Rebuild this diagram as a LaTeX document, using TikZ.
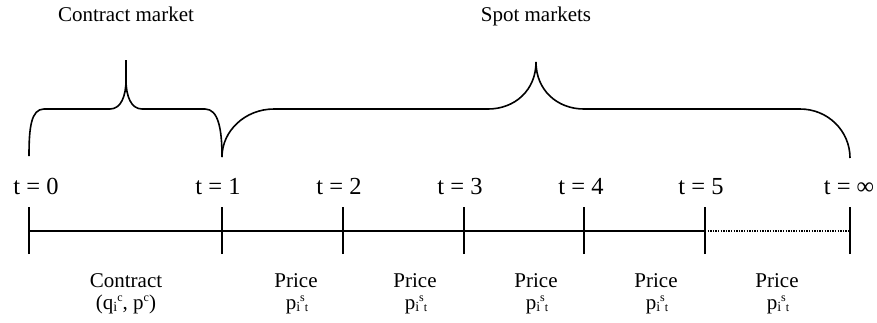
\documentclass[tikz,border=0pt]{standalone}
\usepackage{fontspec}
\setmainfont{Liberation Serif}
\newcommand{\lowi}[1]{\raisebox{-2.5pt}{\fontsize{14}{14}\selectfont #1}}
\newcommand{\supx}[1]{\raisebox{8pt}{\fontsize{12}{12}\selectfont #1}}
\newcommand{\subx}[1]{\raisebox{-2.5pt}{\fontsize{12}{12}\selectfont #1}}
\begin{document}
\begin{tikzpicture}[x=1pt,y=-1pt,
  lbl/.style={font=\fontsize{21}{23}\selectfont, inner sep=0pt, anchor=base},
  sublbl/.style={font=\fontsize{21}{23}\selectfont, inner sep=0pt, anchor=base},
  tlbl/.style={font=\fontsize{24.5}{26}\selectfont, inner sep=0pt, anchor=base},
  brace/.style={line width=1.6pt, line join=round},
  axis/.style={line width=1.3pt},
  tick/.style={line width=1.3pt},
  dotline/.style={line width=1.3pt, dash pattern=on 1.3pt off 1.3pt}]
\useasboundingbox (0,0) rectangle (877,322);
% timeline coordinates
\coordinate (T0) at (29,231);
\coordinate (T1) at (222,231);
\coordinate (T2) at (343,231);
\coordinate (T3) at (464,231);
\coordinate (T4) at (584,231);
\coordinate (T5) at (705,231);
\coordinate (Tinf) at (850,231);
\draw[axis] (T0) -- (T5);
\draw[dotline] (T5) -- (Tinf);
\foreach \c in {T0,T1,T2,T3,T4,T5,Tinf}
  \draw[tick] ([yshift=-23pt]\c) -- ([yshift=24pt]\c);
% time labels
\node[tlbl] (l0) at (36,194) {t = 0};
\node[tlbl] (l1) at (218,194) {t = 1};
\node[tlbl] (l2) at (339,194) {t = 2};
\node[tlbl] (l3) at (460,194) {t = 3};
\node[tlbl] (l4) at (581,194) {t = 4};
\node[tlbl] (l5) at (701,194) {t = 5};
\node[tlbl] (linf) at (849,194) {t = ∞};
% interval labels
\node[lbl] (c1) at (126,287) {Contract};
\node[sublbl] (c2) at (126,309) {(q\lowi{i}\supx{c}, p\supx{c})};
\foreach \x/\n in {296/a,415/b,536/c,656/d,777/e}{
  \node[lbl] (p\n) at (\x,287) {Price};
  \node[sublbl] (q\n) at (\x+1,309) {p\lowi{i}\supx{s}\subx{t}};
}
% headings
\node[lbl] (cm) at (126,21) {Contract market};
\node[lbl] (sm) at (536,21) {Spot markets};
% contract brace
\coordinate (cb0) at (29,156);
\coordinate (cb1) at (222,157);
\coordinate (cbt) at (126,60);
\draw[brace] (cb0) .. controls (29,128) and (31,109) .. (44,109) -- (110,109)
  .. controls (121,109) and (126,96) .. (126,80) -- (cbt);
\draw[brace] (cbt) -- (126,80) .. controls (126,96) and (131,109) .. (142,109)
  -- (205,109) .. controls (218,109) and (222,128) .. (cb1);
% spot brace
\coordinate (sb0) at (222,157);
\coordinate (sb1) at (850,158);
\coordinate (sbt) at (536,62);
\draw[brace] (sb0) .. controls (222,131) and (245,109) .. (274,109) -- (488,109)
  .. controls (515,109) and (536,90) .. (sbt);
\draw[brace] (sbt) .. controls (536,90) and (557,109) .. (584,109) -- (800,109)
  .. controls (828,109) and (850,131) .. (sb1);
\end{tikzpicture}
\end{document}
